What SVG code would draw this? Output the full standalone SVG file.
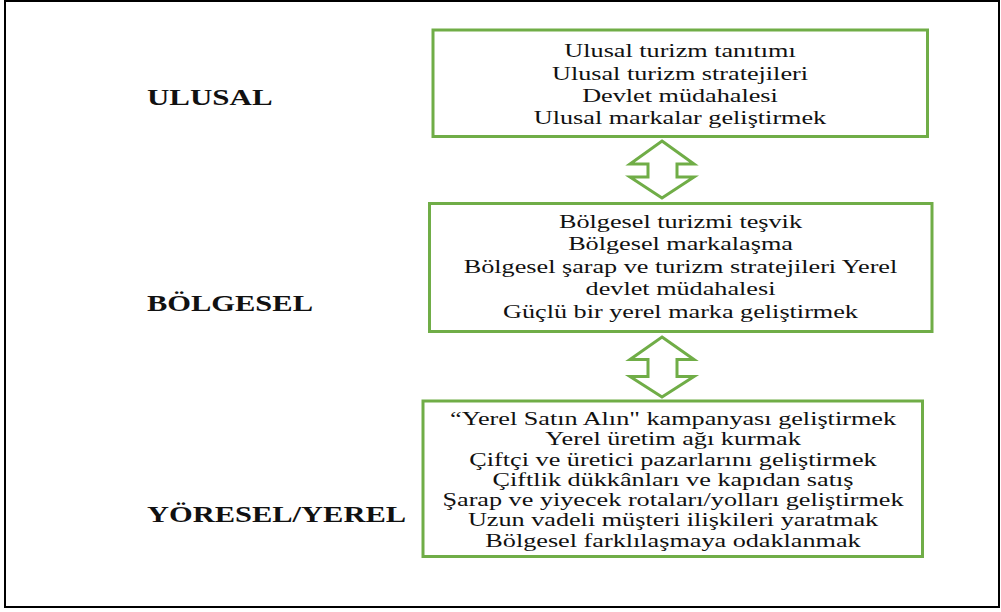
<svg xmlns="http://www.w3.org/2000/svg" width="1001" height="612" viewBox="0 0 1001 612">
  <style>
    .frame { fill: #ffffff; stroke: #000000; stroke-width: 2; }
    .box { fill: #ffffff; stroke: #70AD47; stroke-width: 3; }
    .arrow { fill: #ffffff; stroke: #70AD47; stroke-width: 3; stroke-linejoin: miter; }
    .body { font-family: "Liberation Serif", "Times New Roman", serif; font-size: 18px; fill: #111111; text-anchor: middle; }
    .level { font-family: "Liberation Serif", "Times New Roman", serif; font-size: 24px; font-weight: bold; fill: #111111; }
  </style>

  <rect class="frame" x="5" y="1" width="994" height="606"/>

  <!-- level labels -->
  <g id="label-ulusal" transform="translate(147,0) scale(1.29,1)">
    <text class="level" x="0" y="105">ULUSAL</text>
  </g>
  <g id="label-bolgesel" transform="translate(147,0) scale(1.27,1)">
    <text class="level" x="0" y="311">BÖLGESEL</text>
  </g>
  <g id="label-yoresel" transform="translate(147,0) scale(1.27,1)">
    <text class="level" x="0" y="522">YÖRESEL/YEREL</text>
  </g>

  <!-- national box -->
  <g id="node-ulusal">
    <rect class="box" x="433" y="30" width="494.5" height="106.5"/>
    <g transform="translate(680,0) scale(1.456,1)">
      <text class="body" x="0" y="57">Ulusal turizm tanıtımı</text>
      <text class="body" x="0" y="80">Ulusal turizm stratejileri</text>
      <text class="body" x="0" y="102">Devlet müdahalesi</text>
      <text class="body" x="0" y="124">Ulusal markalar geliştirmek</text>
    </g>
  </g>

  <!-- regional box -->
  <g id="node-bolgesel">
    <rect class="box" x="429.5" y="203.5" width="502.5" height="128"/>
    <g transform="translate(680.5,0) scale(1.456,1)">
      <text class="body" x="0" y="228">Bölgesel turizmi teşvik</text>
      <text class="body" x="0" y="250">Bölgesel markalaşma</text>
      <text class="body" x="0" y="273">Bölgesel şarap ve turizm stratejileri Yerel</text>
      <text class="body" x="0" y="295">devlet müdahalesi</text>
      <text class="body" x="0" y="318">Güçlü bir yerel marka geliştirmek</text>
    </g>
  </g>

  <!-- local box -->
  <g id="node-yerel">
    <rect class="box" x="423" y="401" width="499.5" height="155.5"/>
    <g transform="translate(673,0) scale(1.456,1)">
      <text class="body" x="0" y="425">“Yerel Satın Alın" kampanyası geliştirmek</text>
      <text class="body" x="0" y="445.5">Yerel üretim ağı kurmak</text>
      <text class="body" x="0" y="466">Çiftçi ve üretici pazarlarını geliştirmek</text>
      <text class="body" x="0" y="486">Çiftlik dükkânları ve kapıdan satış</text>
      <text class="body" x="0" y="506.5">Şarap ve yiyecek rotaları/yolları geliştirmek</text>
      <text class="body" x="0" y="526.5">Uzun vadeli müşteri ilişkileri yaratmak</text>
      <text class="body" x="0" y="547">Bölgesel farklılaşmaya odaklanmak</text>
    </g>
  </g>

  <!-- two-way block arrows between levels -->
  <g id="connectors">
    <polygon class="arrow" points="662,141 694,164 677,164 677,177 694,177 662,198 630,177 648,177 648,164 630,164"/>
    <polygon class="arrow" points="662,337 694,359.5 677,359.5 677,376.5 694,376.5 662,397 630,376.5 648,376.5 648,359.5 630,359.5"/>
  </g>
</svg>
